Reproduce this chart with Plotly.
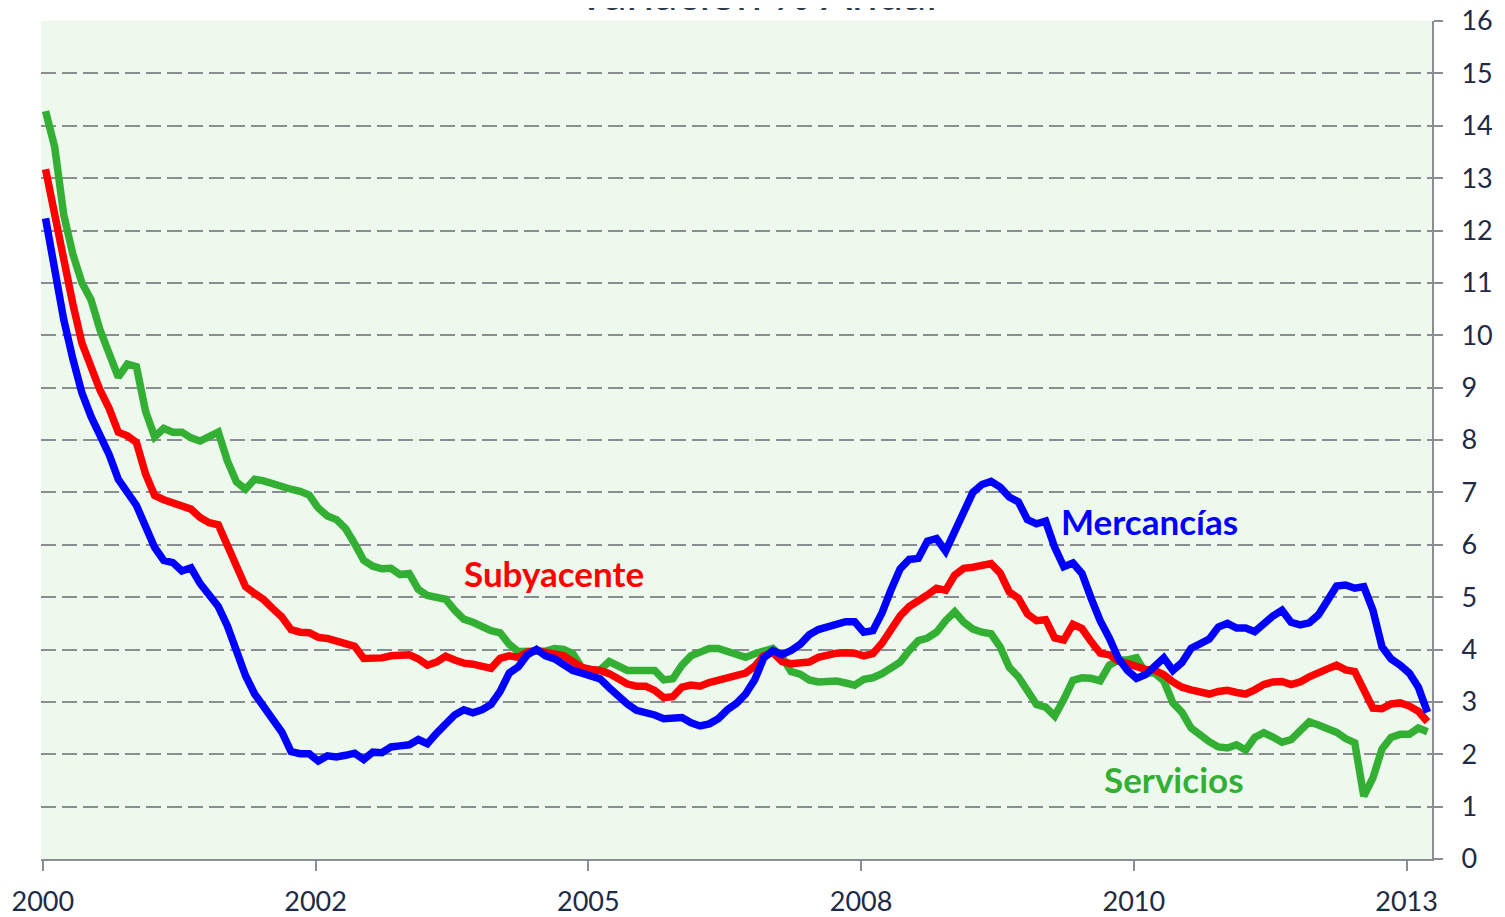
import plotly.graph_objects as go

# Monthly observations, index 0 = first month of 2000
mercancias = [
    12.23, 11.2, 10.3, 9.55, 8.9, 8.45, 8.1, 7.72, 7.25, 6.97,
    6.75, 6.35, 5.95, 5.7, 5.66, 5.5, 5.56, 5.26, 5.04, 4.82,
    4.45, 4.0, 3.5, 3.15, 2.9, 2.65, 2.42, 2.05, 2.01, 2.01,
    1.87, 1.97, 1.95, 1.98, 2.02, 1.9, 2.04, 2.03, 2.14, 2.16,
    2.18, 2.28, 2.2, 2.4, 2.6, 2.75, 2.85, 2.79, 2.85, 2.95,
    3.2, 3.55, 3.67, 3.9, 4.0, 3.88, 3.82, 3.7, 3.6, 3.55,
    3.5, 3.44, 3.27, 3.1, 2.96, 2.84, 2.8, 2.75, 2.68, 2.68,
    2.7, 2.6, 2.54, 2.58, 2.68, 2.85, 2.97, 3.15, 3.42, 3.84,
    3.98, 3.9, 3.98, 4.1, 4.28, 4.38, 4.42, 4.48, 4.53, 4.53,
    4.33, 4.36, 4.7, 5.14, 5.54, 5.72, 5.74, 6.07, 6.12, 5.88,
    6.25, 6.63, 7.0, 7.15, 7.21, 7.1, 6.91, 6.82, 6.48, 6.4,
    6.45, 5.95, 5.58, 5.65, 5.45, 4.98, 4.55, 4.22, 3.83, 3.6,
    3.45, 3.52, 3.68, 3.84, 3.6, 3.75, 4.02, 4.13, 4.2, 4.43,
    4.5, 4.41, 4.41, 4.34, 4.5, 4.64, 4.75, 4.52, 4.47, 4.51,
    4.66, 4.92, 5.21, 5.23, 5.17, 5.2, 4.75, 4.05, 3.82, 3.7,
    3.55, 3.28, 2.8,
]

subyacente = [
    13.17, 12.26, 11.5, 10.6, 9.85, 9.4, 8.95, 8.6, 8.15, 8.08,
    7.95, 7.35, 6.94, 6.86, 6.8, 6.71, 6.68, 6.52, 6.42, 6.38,
    6.0, 5.55, 5.2, 5.07, 4.95, 4.78, 4.62, 4.38, 4.33, 4.32,
    4.23, 4.21, 4.17, 4.12, 4.06, 3.83, 3.82, 3.84, 3.88, 3.89,
    3.9, 3.82, 3.7, 3.76, 3.87, 3.8, 3.74, 3.72, 3.68, 3.64,
    3.83, 3.88, 3.85, 3.95, 3.98, 3.94, 3.92, 3.88, 3.77, 3.66,
    3.62, 3.6, 3.54, 3.42, 3.34, 3.3, 3.3, 3.22, 3.08, 3.1,
    3.28, 3.32, 3.3, 3.37, 3.41, 3.48, 3.51, 3.55, 3.68, 3.88,
    3.94, 3.77, 3.73, 3.73, 3.76, 3.85, 3.9, 3.93, 3.94, 3.93,
    3.88, 3.92, 4.12, 4.38, 4.64, 4.82, 4.91, 5.04, 5.17, 5.13,
    5.42, 5.55, 5.57, 5.6, 5.64, 5.46, 5.1, 4.98, 4.68, 4.55,
    4.57, 4.22, 4.18, 4.48, 4.4, 4.15, 3.93, 3.9, 3.78, 3.73,
    3.67, 3.62, 3.6, 3.52, 3.38, 3.28, 3.23, 3.18, 3.15, 3.2,
    3.22, 3.18, 3.15, 3.23, 3.33, 3.38, 3.39, 3.33, 3.38, 3.48,
    3.54, 3.63, 3.7, 3.61, 3.58, 3.22, 2.88, 2.87, 2.96, 2.98,
    2.92, 2.82, 2.62,
]

servicios = [
    14.28, 13.6, 12.3, 11.55, 11.0, 10.68, 10.1, 9.6, 9.2, 9.45,
    9.4, 8.55, 8.06, 8.22, 8.15, 8.15, 8.04, 7.98, 8.08, 8.15,
    7.6, 7.2, 7.06, 7.25, 7.22, 7.16, 7.1, 7.06, 7.02, 6.95,
    6.7, 6.55, 6.48, 6.31, 6.02, 5.7, 5.59, 5.54, 5.55, 5.43,
    5.45, 5.15, 5.03, 5.0, 4.96, 4.75, 4.58, 4.52, 4.44, 4.36,
    4.32, 4.1, 3.96, 3.96, 3.96, 3.97, 4.02, 4.0, 3.92, 3.65,
    3.58, 3.61, 3.77, 3.67, 3.6, 3.6, 3.61, 3.6, 3.42, 3.44,
    3.7, 3.88, 3.95, 4.02, 4.02, 3.96, 3.88, 3.85, 3.92, 3.97,
    4.02, 3.86, 3.58, 3.53, 3.42, 3.38, 3.4, 3.4, 3.36, 3.32,
    3.43, 3.46, 3.54, 3.63, 3.76, 3.98, 4.17, 4.22, 4.33, 4.55,
    4.72, 4.52, 4.39, 4.33, 4.3, 4.05, 3.66, 3.48, 3.2, 2.95,
    2.9, 2.73, 3.05, 3.41, 3.46, 3.45, 3.4, 3.7, 3.8, 3.8,
    3.84, 3.55, 3.55, 3.4, 2.98, 2.8, 2.5, 2.35, 2.24, 2.14,
    2.12, 2.18, 2.08, 2.32, 2.41, 2.33, 2.23, 2.28, 2.45, 2.62,
    2.56, 2.5, 2.42, 2.3, 2.22, 1.2, 1.55, 2.1, 2.32, 2.38,
    2.38, 2.5, 2.43,
]

months = list(range(len(mercancias)))
tick_positions = [-0.3, 29.7, 59.7, 89.7, 119.7, 149.7]
tick_labels = ["2000", "2002", "2005", "2008", "2010", "2013"]
y_ticks = list(range(0, 17))

BLUE = "#0000FF"
RED = "#FF0000"
GREEN = "#33B033"
TXT = "#1F2A44"
AXC = "#8A8D91"
FONT = "Lato"

fig = go.Figure()
fig.add_trace(go.Scatter(x=months, y=servicios, mode="lines", name="Servicios",
                         line=dict(color=GREEN, width=7.5), showlegend=False))
fig.add_trace(go.Scatter(x=months, y=subyacente, mode="lines", name="Subyacente",
                         line=dict(color=RED, width=7.5), showlegend=False))
fig.add_trace(go.Scatter(x=months, y=mercancias, mode="lines", name="Mercancías",
                         line=dict(color=BLUE, width=7.5), showlegend=False))

# page body adds an 8px offset; figure sized so the plot lands on the same pixels
fig.update_layout(
    width=1497, height=909,
    margin=dict(l=33, r=73, t=13, b=58, autoexpand=False),
    paper_bgcolor="white",
    plot_bgcolor="#EEF9EE",
    font=dict(family=FONT, color=TXT),
    title=dict(text="Variación % Anual", x=0.5, xanchor="center",
               yref="paper", y=1, yanchor="bottom", pad=dict(b=11),
               font=dict(size=46, color="#2E3B4E", family=FONT)),
    xaxis=dict(
        range=[-0.5, 152.5], automargin=False,
        tickmode="array", tickvals=tick_positions, ticktext=tick_labels,
        showgrid=False, zeroline=False,
        showline=True, linecolor=AXC, linewidth=2,
        ticks="outside", ticklen=10, tickwidth=2, tickcolor=AXC,
        ticklabelstandoff=8, ticklabeloverflow="allow",
        tickfont=dict(size=27, color=TXT, family=FONT),
    ),
    yaxis=dict(
        range=[0, 16], side="right", automargin=False,
        tickmode="array", tickvals=y_ticks,
        showgrid=True, gridcolor=AXC, gridwidth=2, griddash="15px,6px",
        zeroline=False,
        showline=True, linecolor=AXC, linewidth=2,
        ticks="outside", ticklen=9, tickwidth=2, tickcolor=AXC,
        ticklabelstandoff=13, ticklabeloverflow="allow",
        tickfont=dict(size=27, color=TXT, family=FONT),
    ),
    annotations=[
        dict(text="<b>Subyacente</b>", xref="x", yref="y", x=55.9, y=5.47,
             showarrow=False, font=dict(size=35, color=RED, family=FONT)),
        dict(text="<b>Mercancías</b>", xref="x", yref="y", x=121.4, y=6.45,
             showarrow=False, font=dict(size=35, color=BLUE, family=FONT)),
        dict(text="<b>Servicios</b>", xref="x", yref="y", x=124.1, y=1.53,
             showarrow=False, font=dict(size=35, color=GREEN, family=FONT)),
    ],
)

fig.write_html("out.html")
